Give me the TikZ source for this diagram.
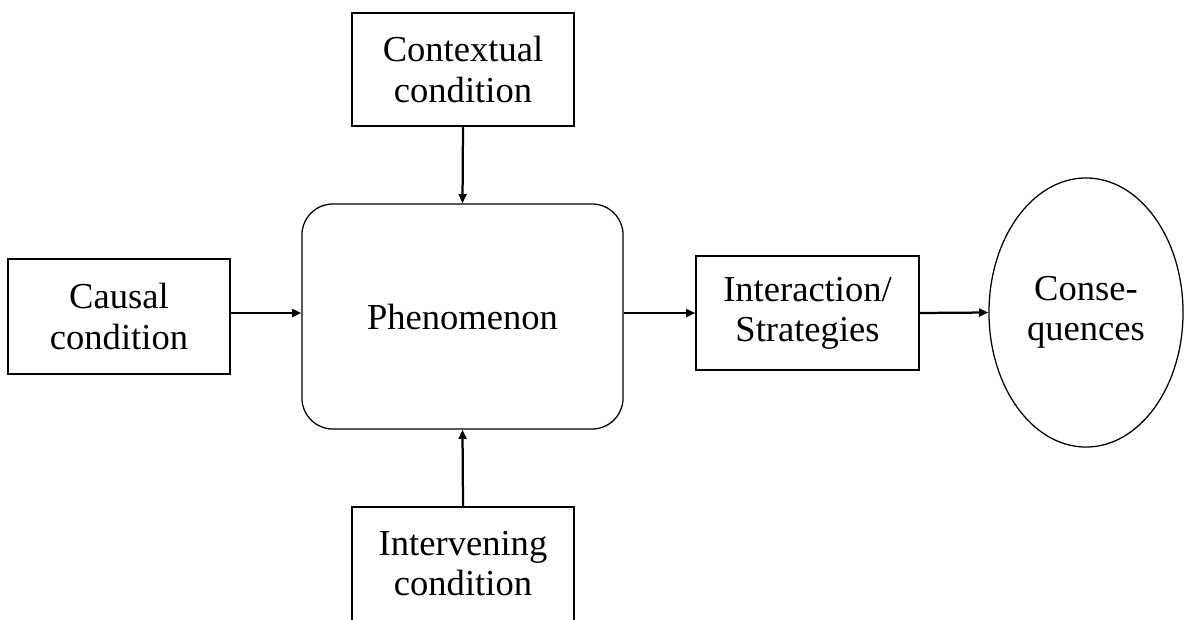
\documentclass[tikz,border=0pt]{standalone}
\usepackage{fontspec}
\setmainfont{Liberation Serif}
\usetikzlibrary{arrows.meta,shapes.geometric}

\begin{document}
\begin{tikzpicture}[%
      x=0.025cm, y=-0.025cm,
      box/.style={draw, line width=0.9pt, align=center, inner sep=0pt,
        font=\fontsize{26}{28.5}\selectfont},
      link/.style={line width=1.6pt, -{Triangle[length=6.5pt,width=5.5pt]}},
      ]
      \useasboundingbox (0,0) rectangle (1184,619);

      \node[box, minimum width=5.55cm, minimum height=2.825cm] (ctx) at (463,69.5) {Contextual\\condition};
      \node[box, rounded corners=0.775cm, minimum width=8.025cm, minimum height=5.625cm] (phen) at (462.5,316.5) {Phenomenon};
      \node[box, minimum width=5.55cm, minimum height=2.875cm] (cau) at (119,316.5) {Causal\\condition};
      \node[box, minimum width=5.575cm, minimum height=2.85cm] (intr) at (807.5,313) {Interaction/\\Strategies};
      \node[box, ellipse, minimum width=4.85cm, minimum height=6.725cm] (cons) at (1086,312.5) {Conse-\\quences};
      \node[box, minimum width=5.55cm, minimum height=2.85cm] (intv) at (463,564) {Intervening\\condition};

      \draw[link] (ctx.south) -- (phen.north);
      \draw[link] (intv.north) -- (phen.south);
      \draw[link] (cau.east |- intr.west) -- (phen.west |- intr.west);
      \draw[link] (phen.east |- intr.west) -- (intr.west);
      \draw[link] (intr.east) -- (cons.west);
\end{tikzpicture}
\end{document}
